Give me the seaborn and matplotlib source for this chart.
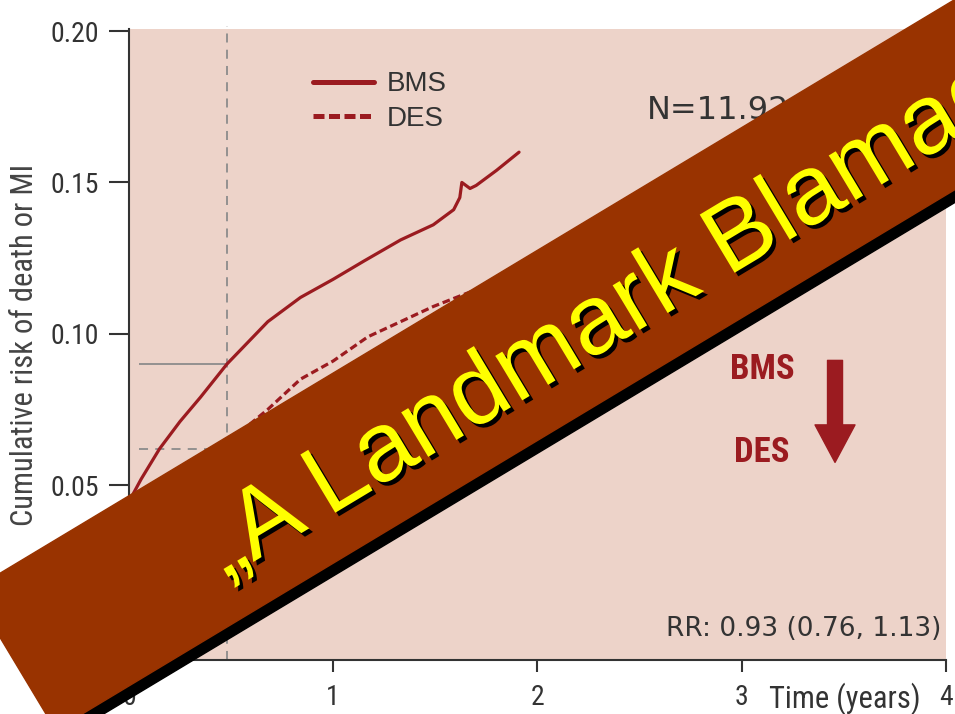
import matplotlib
matplotlib.use("Agg")
import matplotlib.pyplot as plt
import matplotlib.patheffects as pe
from matplotlib.lines import Line2D
from matplotlib.patches import Rectangle
import pandas as pd
import seaborn as sns

# curves
bms_years = [0.0, 0.02, 0.06, 0.15, 0.25, 0.35, 0.48, 0.58, 0.68, 0.84, 1.00, 1.15,
             1.33, 1.49, 1.59, 1.62, 1.63, 1.67, 1.70, 1.80, 1.91]
bms_risk = [0.043, 0.047, 0.052, 0.062, 0.071, 0.079, 0.090, 0.097, 0.104, 0.112, 0.118, 0.124,
            0.131, 0.136, 0.141, 0.145, 0.150, 0.148, 0.149, 0.154, 0.160]
des_years = [0.0, 0.20, 0.48, 0.59, 0.68, 0.84, 1.00, 1.17, 1.33, 1.49, 1.64, 1.91]
des_risk = [0.030, 0.048, 0.062, 0.070, 0.075, 0.085, 0.091, 0.099, 0.104, 0.109, 0.113, 0.120]

landmark_year = 0.48
bms_at_landmark = 0.090
des_at_landmark = 0.062

x_ticks = [0, 1, 2, 3, 4]
y_ticks = [0.05, 0.10, 0.15, 0.20]
y_labels = ["0.05", "0.10", "0.15", "0.20"]

RED = "#9B1B20"
PINK = "#EDD3C9"
DARK = "#333333"
narrow = ["Roboto Condensed", "DejaVu Sans"]
sans = ["Liberation Sans", "DejaVu Sans"]
cond = dict(family=narrow, fontstretch="condensed")

df = pd.concat([
    pd.DataFrame({"Time": bms_years, "Risk": bms_risk, "Stent": "BMS"}),
    pd.DataFrame({"Time": des_years, "Risk": des_risk, "Stent": "DES"}),
])

sns.set_style("ticks")
plt.rcParams["font.family"] = sans

fig = plt.figure(figsize=(9.55, 7.14), dpi=100)
ax = fig.add_axes([0.135, 0.0756, 0.8555, 0.8838])
ax.set_facecolor(PINK)

sns.lineplot(data=df, x="Time", y="Risk", hue="Stent", style="Stent",
             palette={"BMS": RED, "DES": RED},
             dashes={"BMS": "", "DES": (2.4, 1.2)},
             linewidth=2.3, legend=False, ax=ax, zorder=3)

# landmark guide lines
ax.axvline(landmark_year, ymin=0, ymax=1.004, color="#8c8c8c", lw=1.3,
           ls=(0, (5, 4)), clip_on=False, zorder=2)
ax.hlines(bms_at_landmark, 0.05, landmark_year, color="#8c8c8c", lw=1.3, zorder=2)
ax.hlines(des_at_landmark, 0.05, landmark_year, color="#8c8c8c", lw=1.3,
          ls=(0, (5, 4)), zorder=2)

ax.set_xlim(0, 4)
ax.set_ylim(-0.0078, 0.2007)
ax.set_xticks(x_ticks)
ax.set_xticklabels([str(t) for t in x_ticks], fontsize=20, color=DARK, **cond)
ax.set_yticks(y_ticks)
ax.set_yticklabels(y_labels, fontsize=20, color=DARK, **cond)
ax.tick_params(axis="y", length=14.4, width=1.5, color=DARK, pad=7)
ax.tick_params(axis="x", length=8.6, width=1.5, color=DARK, pad=9)
sns.despine(ax=ax)
for s in ["left", "bottom"]:
    ax.spines[s].set_color(DARK)
    ax.spines[s].set_linewidth(1.5)

ax.set_ylabel("Cumulative risk of death or MI", fontsize=22, color="#444444", **cond)
ax.yaxis.set_label_coords(-0.11, 0.5)
ax.set_xlabel("Time (years)", fontsize=22, color=DARK, **cond)
ax.xaxis.set_label_coords(0.876, -0.036)

handles = [Line2D([], [], color=RED, lw=3.6),
           Line2D([], [], color=RED, lw=3.6, ls=(0, (2.2, 0.9)))]
ax.legend(handles, ["BMS", "DES"], loc="upper left", bbox_to_anchor=(0.208, 0.955),
          frameon=False, fontsize=20, handlelength=2.2, handletextpad=0.45,
          labelspacing=0.3, borderpad=0, labelcolor=DARK)

ax.text(2.536, 0.171, "N=11.928", fontsize=23, color=DARK, ha="left", va="baseline",
        family="DejaVu Sans")
ax.text(3.98, 0.0, "RR: 0.93 (0.76, 1.13)", fontsize=19, color=DARK, ha="right",
        va="baseline", family="DejaVu Sans")
ax.text(3.10, 0.0849, "BMS", fontsize=25, fontweight="bold", color=RED,
        ha="center", va="baseline", **cond)
ax.text(3.10, 0.0575, "DES", fontsize=25, fontweight="bold", color=RED,
        ha="center", va="baseline", **cond)
ax.annotate("", xy=(3.457, 0.0575), xytext=(3.457, 0.0912),
            arrowprops=dict(arrowstyle="simple,head_width=0.96,head_length=0.9,tail_width=0.36",
                            mutation_scale=30, color=RED, shrinkA=0, shrinkB=0))

# diagonal banner across the chart
tr = fig.dpi_scale_trans
fig.add_artist(Rectangle((0.62, -0.25), 14, 1.63, angle=31, color="black",
                         transform=tr, zorder=10))
fig.add_artist(Rectangle((0.556, -0.16), 14, 1.63, angle=31, color="#993300",
                         transform=tr, zorder=11))
fig.text(2.25, 1.35, "\u201eA Landmark Blamage\u201c", transform=tr, rotation=31,
         rotation_mode="anchor", ha="left", va="baseline", fontsize=71, color="#FFFF00",
         family=sans, zorder=12,
         path_effects=[pe.withSimplePatchShadow(offset=(2.6, -2.6), shadow_rgbFace="black",
                                                alpha=1.0)])

fig.savefig("out.png", dpi=100)
